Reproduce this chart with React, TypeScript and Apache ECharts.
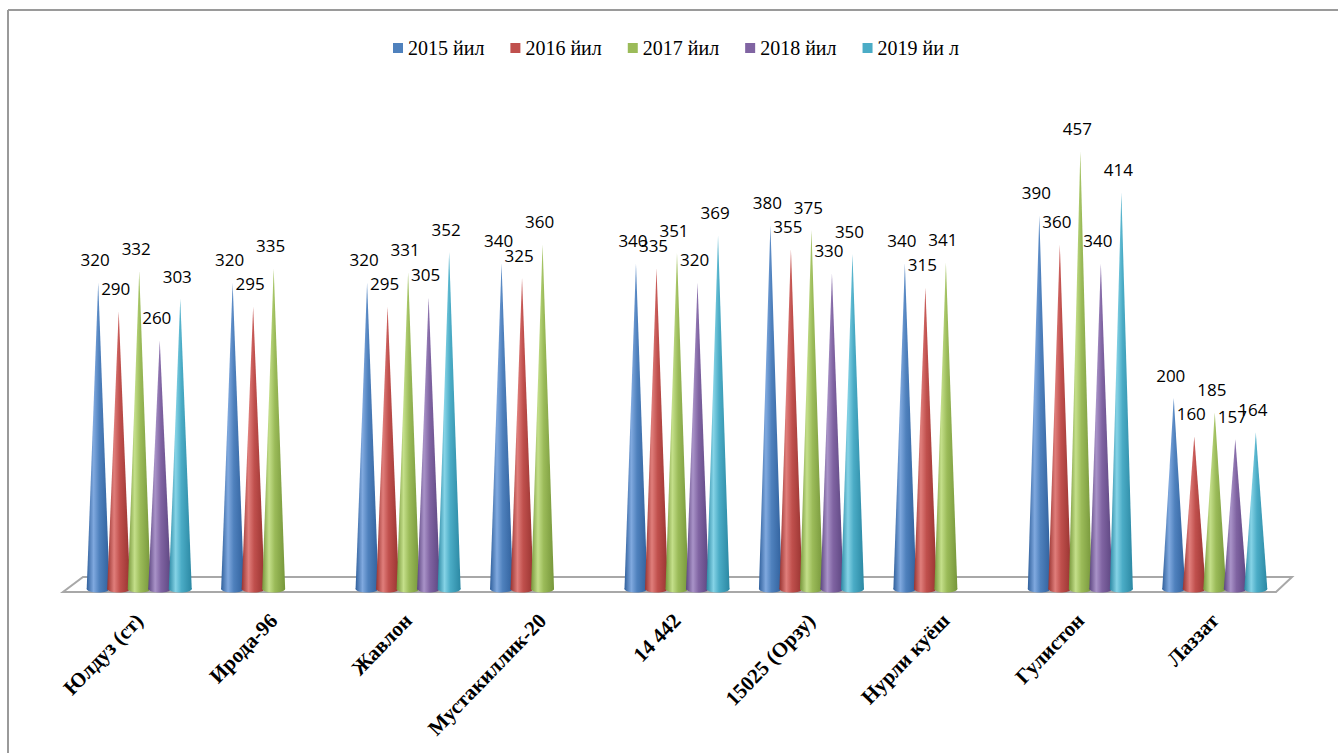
import React, { useEffect, useRef } from "react";
import * as echarts from "echarts";

const categories = [
  "Юлдуз (ст)",
  "Ирода-96",
  "Жавлон",
  "Мустакиллик-20",
  "14 442",
  "15025 (Орзу)",
  "Нурли куёш",
  "Гулистон",
  "Лаззат",
];

const seriesNames = ["2015 йил", "2016 йил", "2017 йил", "2018 йил", "2019 йи л"];

const values2015 = [320, 320, 320, 340, 340, 380, 340, 390, 200];
const values2016 = [290, 295, 295, 325, 335, 355, 315, 360, 160];
const values2017 = [332, 335, 331, 360, 351, 375, 341, 457, 185];
const values2018 = [260, null, 305, null, 320, 330, null, 340, 157];
const values2019 = [303, null, 352, null, 369, 350, null, 414, 164];

const allValues = [values2015, values2016, values2017, values2018, values2019];

// [dark, light, base]
const palette = [
  ["#30609c", "#80a9df", "#4f81bd"],
  ["#983330", "#e07e7b", "#c0504d"],
  ["#76963a", "#c4df8a", "#9bbb59"],
  ["#5c4580", "#a993c8", "#8064a2"],
  ["#2b88a3", "#85d3e6", "#4bacc6"],
];

export default function App() {
  const ref = useRef<HTMLDivElement>(null);

  useEffect(() => {
    document.body.style.margin = "0";
    if (!ref.current) return;
    const chart = echarts.init(ref.current, undefined, { renderer: "svg" });

    const series: any[] = allValues.map((vals, s) => {
      const [dark, light, base] = palette[s];
      const grad = {
        type: "linear",
        x: 0,
        y: 0,
        x2: 1,
        y2: 0,
        colorStops: [
          { offset: 0, color: dark },
          { offset: 0.3, color: light },
          { offset: 0.55, color: base },
          { offset: 1, color: dark },
        ],
      };
      const data = vals
        .map((v, i) => (v == null ? null : [i, v]))
        .filter((d) => d !== null);
      return {
        type: "custom",
        name: seriesNames[s],
        itemStyle: { color: base },
        z: 3,
        data,
        encode: { x: 0, y: 1 },
        renderItem: (_params: any, api: any) => {
          const ci = api.value(0);
          const v = api.value(1);
          const b = api.coord([ci, 0]);
          const t = api.coord([ci, v]);
          const band = api.size([1, 0])[0];
          const slot = (band * 0.763) / 5;
          const cx = b[0] + (s - 2) * slot;
          const hw = slot * 0.56;
          return {
            type: "group",
            children: [
              {
                type: "ellipse",
                shape: { cx, cy: b[1] - 1, rx: hw, ry: 3.5 },
                style: { fill: grad },
              },
              {
                type: "polygon",
                shape: {
                  points: [
                    [cx - hw, b[1] - 1],
                    [cx, t[1]],
                    [cx + hw, b[1] - 1],
                  ],
                },
                style: { fill: grad },
              },
              {
                type: "text",
                x: cx - 3,
                y: t[1] - 23,
                style: {
                  text: String(v),
                  fontSize: 17,
                  fontFamily: "Open Sans",
                  fill: "#000",
                  align: "center",
                  verticalAlign: "middle",
                },
              },
            ],
          };
        },
      };
    });

    chart.setOption({
      animation: false,
      backgroundColor: "#ffffff",
      legend: {
        top: 33,
        left: 388,
        itemWidth: 10,
        itemHeight: 10,
        itemGap: 26,
        icon: "rect",
        textStyle: {
          fontFamily: "Liberation Serif",
          fontSize: 20,
          color: "#000",
        },
        data: seriesNames,
      },
      grid: { left: 72, right: 56, top: 110, bottom: 163 },
      xAxis: {
        type: "category",
        data: categories,
        axisLine: { show: false },
        axisTick: { show: false },
        axisLabel: {
          interval: 0,
          rotate: 46,
          margin: 27,
          fontFamily: "Liberation Serif",
          fontWeight: "bold",
          fontSize: 21,
          color: "#000",
        },
      },
      yAxis: {
        type: "value",
        min: 0,
        max: 500,
        show: false,
      },
      graphic: [
        {
          type: "line",
          shape: { x1: 8, y1: 10, x2: 1338, y2: 10 },
          style: { stroke: "#9a9a9a", lineWidth: 2 },
        },
        {
          type: "line",
          shape: { x1: 8, y1: 10, x2: 8, y2: 753 },
          style: { stroke: "#9a9a9a", lineWidth: 2 },
        },
        {
          type: "polygon",
          z: 0,
          shape: {
            points: [
              [83, 577],
              [1292, 577],
              [1276, 592],
              [63, 592],
            ],
          },
          style: { fill: "#ffffff", stroke: "#a8a8a8", lineWidth: 2 },
        },
      ],
      series,
    });

    return () => chart.dispose();
  }, []);

  return <div ref={ref} style={{ width: 1338, height: 753 }} />;
}
